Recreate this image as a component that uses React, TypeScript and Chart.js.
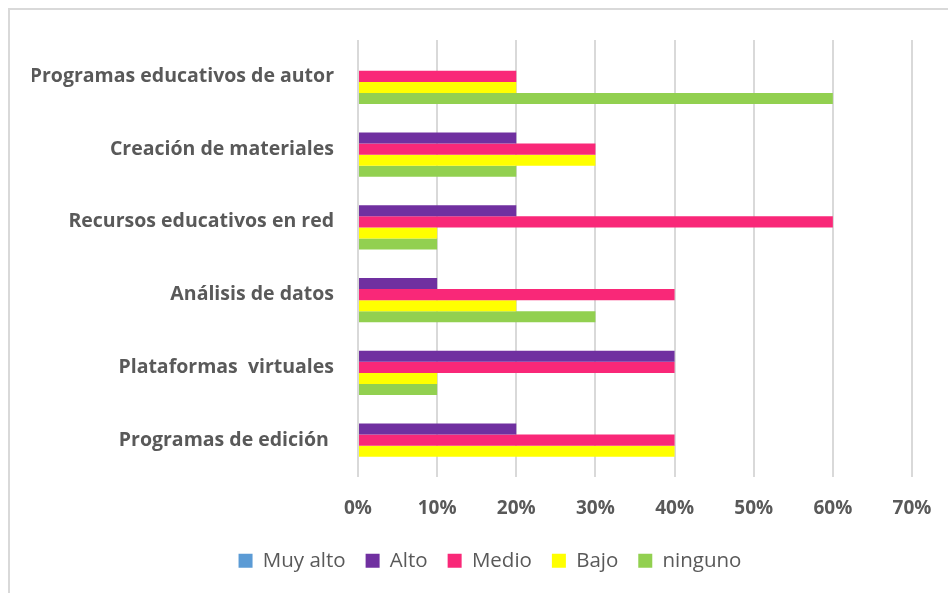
import React, { useEffect, useRef } from "react";
import { Chart, registerables } from "chart.js";

Chart.register(...registerables);

const categories = [
  "Programas educativos de autor",
  "Creación de materiales",
  "Recursos educativos en red",
  "Análisis de datos",
  "Plataformas  virtuales",
  "Programas de edición ",
];

const seriesNames = ["Muy alto", "Alto", "Medio", "Bajo", "ninguno"];
const muyAlto = [0, 0, 0, 0, 0, 0];
const alto = [0, 20, 20, 10, 40, 20];
const medio = [20, 30, 60, 40, 40, 40];
const bajo = [20, 30, 10, 20, 10, 40];
const ninguno = [60, 20, 10, 30, 10, 0];
const seriesColors = ["#5b9bd5", "#7030a0", "#f92878", "#ffff00", "#92d050"];

const FONT = "'Open Sans', Lato, sans-serif";

const borderPlugin = {
  id: "outerBorder",
  beforeDraw(chart: any) {
    const ctx = chart.ctx;
    ctx.save();
    ctx.strokeStyle = "#d9d9d9";
    ctx.lineWidth = 2;
    ctx.strokeRect(9, 9, chart.width + 20, chart.height + 20);
    ctx.restore();
  },
};

export default function App() {
  const ref = useRef<HTMLCanvasElement>(null);
  useEffect(() => {
    document.body.style.margin = "0";
    const values = [muyAlto, alto, medio, bajo, ninguno];
    const chart = new Chart(ref.current!, {
      type: "bar",
      data: {
        labels: categories,
        datasets: seriesNames.map((n, i) => ({
          label: n,
          data: values[i],
          backgroundColor: seriesColors[i],
          borderWidth: 0,
          categoryPercentage: 0.76,
          barPercentage: 1,
        })),
      },
      options: {
        indexAxis: "y",
        animation: false,
        responsive: false,
        layout: { padding: { top: 40, right: 0, bottom: 12, left: 32 } },
        scales: {
          x: {
            min: 0,
            max: 70,
            ticks: {
              stepSize: 10,
              callback: (v: any) => v + "%",
              color: "#595959",
              font: { family: FONT, size: 19, weight: "bold" },
              padding: 21,
            },
            grid: { color: "#d9d9d9", lineWidth: 2, drawTicks: false },
            border: { display: false },
            afterFit: (s: any) => {
              s.paddingRight = 36;
              s.height = 54;
            },
          },
          y: {
            ticks: {
              color: "#595959",
              font: { family: FONT, size: 19.5, weight: "bold" },
              padding: 16,
            },
            grid: { display: false },
            border: { display: false },
            afterFit: (s: any) => {
              s.width = 326;
            },
          },
        },
        plugins: {
          legend: {
            position: "bottom",
            labels: {
              color: "#595959",
              font: { family: FONT, size: 20.5 },
              boxWidth: 14,
              boxHeight: 14,
              padding: 20,
            },
          },
          tooltip: { enabled: false },
        },
      },
      plugins: [borderPlugin],
    });
    return () => chart.destroy();
  }, []);
  return <canvas ref={ref} width={948} height={593} style={{ display: "block" }} />;
}
